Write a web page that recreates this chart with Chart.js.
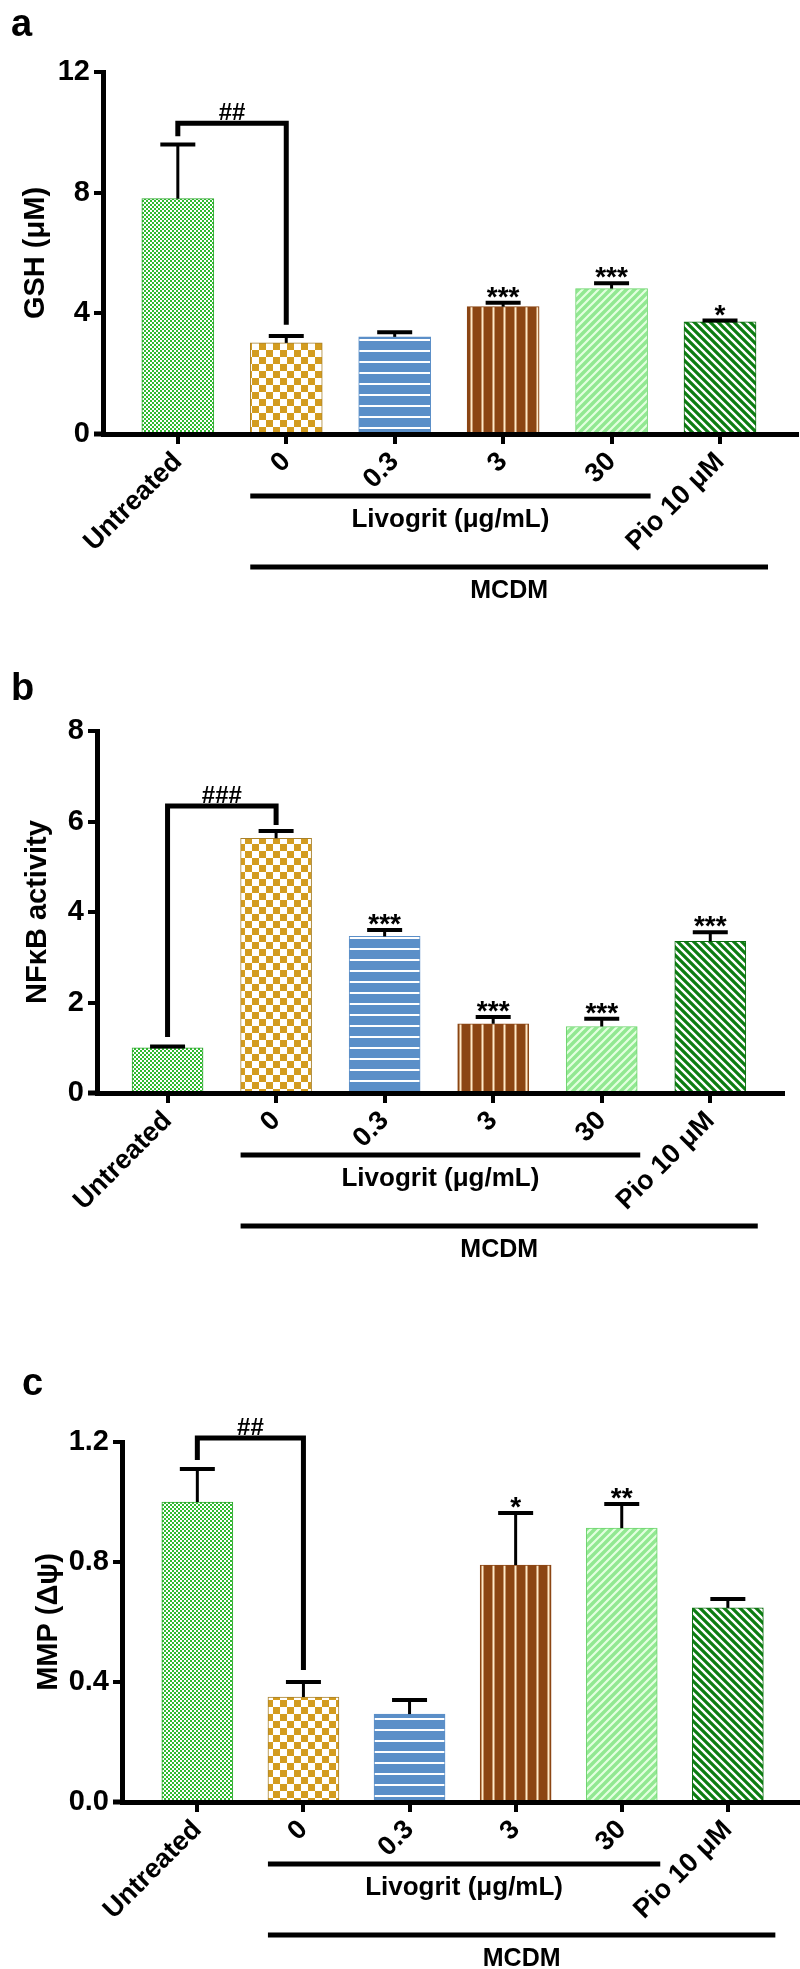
<!DOCTYPE html>
<html><head><meta charset="utf-8">
<script src="https://cdn.jsdelivr.net/npm/chart.js@4.4.1/dist/chart.umd.min.js"></script>
<style>
html,body{margin:0;padding:0;background:#fff;}
body{width:800px;height:1969px;position:relative;overflow:hidden;}
canvas{position:absolute;left:0;}
</style></head><body>
<canvas id="ca" width="800" height="620" style="top:0px"></canvas>
<canvas id="cb" width="800" height="660" style="top:620px"></canvas>
<canvas id="cc" width="800" height="689" style="top:1280px"></canvas>
<script>
// ---------------- data ----------------
const categories = ["Untreated", "0", "0.3", "3", "30", "Pio 10 μM"];

const gshMean  = [7.8, 3.02, 3.22, 4.22, 4.82, 3.72];
const gshErr   = [1.8, 0.23, 0.15, 0.13, 0.18, 0.04];
const gshStars = ["", "", "", "***", "***", "*"];
const gshTicks = [0, 4, 8, 12];
const gshTickLabels = ["0", "4", "8", "12"];
const gshBracket = [10.3, 9.87, 3.62];   // top, left-leg bottom, right-leg bottom
const gshBracketLabel = "##";

const nfkbMean  = [1.0, 5.63, 3.46, 1.53, 1.47, 3.35];
const nfkbErr   = [0.03, 0.16, 0.14, 0.15, 0.17, 0.2];
const nfkbStars = ["", "", "***", "***", "***", "***"];
const nfkbTicks = [0, 2, 4, 6, 8];
const nfkbTickLabels = ["0", "2", "4", "6", "8"];
const nfkbBracket = [6.34, 1.24, 5.92];
const nfkbBracketLabel = "###";

const mmpMean  = [1.0, 0.35, 0.293, 0.79, 0.913, 0.647];
const mmpErr   = [0.11, 0.05, 0.047, 0.173, 0.08, 0.03];
const mmpStars = ["", "", "", "*", "**", ""];
const mmpTicks = [0, 0.4, 0.8, 1.2];
const mmpTickLabels = ["0.0", "0.4", "0.8", "1.2"];
const mmpBracket = [1.213, 1.14, 0.44];
const mmpBracketLabel = "##";

const groupNames = ["Livogrit (μg/mL)", "MCDM"];
const groupFrom  = [1, 1];
const groupTo    = [4, 5];

// ---------------- styling ----------------
const FONT = '"Liberation Sans", Arial, Helvetica, sans-serif';
Chart.defaults.font.family = FONT;

function tile(w, h, draw) {
  const c = document.createElement('canvas'); c.width = w; c.height = h;
  const g = c.getContext('2d'); draw(g, w, h);
  return g.createPattern(c, 'repeat');
}
function checker(size, a, b) {
  return tile(size * 2, size * 2, (g) => {
    g.fillStyle = b; g.fillRect(0, 0, size * 2, size * 2);
    g.fillStyle = a; g.fillRect(0, 0, size, size); g.fillRect(size, size, size, size);
  });
}
function diag(s, bg, fg, lw, up) {
  return tile(s, s, (g) => {
    g.fillStyle = bg; g.fillRect(0, 0, s, s);
    g.strokeStyle = fg; g.lineWidth = lw; g.beginPath();
    if (up) { g.moveTo(-1, s + 1); g.lineTo(s + 1, -1); g.moveTo(-1 - s, s + 1); g.lineTo(1, -1); g.moveTo(s - 1, s + 1); g.lineTo(2 * s + 1, -1); }
    else { g.moveTo(-1, -1); g.lineTo(s + 1, s + 1); g.moveTo(-1 - s, -1); g.lineTo(1, s + 1); g.moveTo(s - 1, -1); g.lineTo(2 * s + 1, s + 1); }
    g.stroke();
  });
}
const patterns = [
  checker(2, '#ffffff', '#30bb30'),
  checker(7, '#d39c1f', '#ffffff'),
  tile(8, 11, (g) => { g.fillStyle = '#5b8fc8'; g.fillRect(0, 0, 8, 11); g.fillStyle = '#ffffff'; g.fillRect(0, 9, 8, 2); }),
  tile(11, 8, (g) => { g.fillStyle = '#8b4513'; g.fillRect(0, 0, 11, 8); g.fillStyle = '#ffe9c8'; g.fillRect(8.5, 0, 2, 8); }),
  diag(8, '#92e892', '#e4ffe0', 2.2, true),
  diag(8, '#0d7d12', '#ffffff', 2.4, false)
];
const borders = ['#2ea82e', '#a8802a', '#5b8fc8', '#8b4513', '#6cd46c', '#0b6e0f'];

function line(ctx, x1, y1, x2, y2) { ctx.beginPath(); ctx.moveTo(x1, y1); ctx.lineTo(x2, y2); ctx.stroke(); }

function annotPlugin(cfg) {
  return {
    id: 'annot',
    afterDraw(chart) {
      const ctx = chart.ctx, xs = chart.scales.x, ys = chart.scales.y;
      const area = chart.chartArea;
      ctx.save();
      ctx.strokeStyle = '#000'; ctx.fillStyle = '#000'; ctx.lineCap = 'butt';
      // x axis extension to the left of the y axis
      ctx.lineWidth = 5; line(ctx, area.left - 9, area.bottom, area.left, area.bottom);
      // error bars + stars
      cfg.mean.forEach((m, i) => {
        const x = xs.getPixelForValue(i);
        const y0 = ys.getPixelForValue(m), y1 = ys.getPixelForValue(m + cfg.err[i]);
        ctx.lineWidth = 3; line(ctx, x, y0, x, y1);
        ctx.lineWidth = 4; line(ctx, x - 17.5, y1, x + 17.5, y1);
        if (cfg.stars[i]) {
          ctx.font = 'bold 28px ' + FONT; ctx.textAlign = 'center'; ctx.textBaseline = 'alphabetic';
          ctx.fillText(cfg.stars[i], x, y1 + 3);
        }
      });
      // bracket
      const xl = xs.getPixelForValue(0), xr = xs.getPixelForValue(1);
      const yt = ys.getPixelForValue(cfg.bracket[0]);
      ctx.lineWidth = 5; ctx.lineJoin = 'miter';
      ctx.beginPath();
      ctx.moveTo(xl, ys.getPixelForValue(cfg.bracket[1]));
      ctx.lineTo(xl, yt); ctx.lineTo(xr, yt);
      ctx.lineTo(xr, ys.getPixelForValue(cfg.bracket[2]));
      ctx.stroke();
      ctx.font = 'bold 24px ' + FONT; ctx.textAlign = 'center'; ctx.textBaseline = 'alphabetic';
      ctx.fillText(cfg.bracketLabel, (xl + xr) / 2, yt - 3);
      // group lines
      const half = cfg.barW / 2;
      groupNames.forEach((name, g) => {
        const y = area.bottom + (g === 0 ? 62 : 133);
        const xa = xs.getPixelForValue(groupFrom[g]) - half;
        const xb = xs.getPixelForValue(groupTo[g]) + half + (g === 0 ? 3 : 12);
        ctx.lineWidth = 5; line(ctx, xa, y, xb, y);
        ctx.font = 'bold ' + (g === 0 ? 26 : 25) + 'px ' + FONT; ctx.textAlign = 'center'; ctx.textBaseline = 'middle';
        ctx.fillText(name, (xa + xb) / 2, y + 24);
      });
      // panel letter
      ctx.font = 'bold 38px ' + FONT; ctx.textAlign = 'left'; ctx.textBaseline = 'alphabetic';
      ctx.fillText(cfg.letter, cfg.letterX, cfg.letterY);
      ctx.restore();
    }
  };
}

function makeChart(id, cfg) {
  const axisFont = { family: FONT, size: 29, weight: 'bold' };
  new Chart(document.getElementById(id), {
    type: 'bar',
    data: {
      datasets: [{
        data: cfg.mean.map((v, i) => ({ x: i, y: v })),
        backgroundColor: patterns, borderColor: borders, borderWidth: 1,
        barThickness: cfg.barW, borderSkipped: 'bottom'
      }]
    },
    options: {
      responsive: false, animation: false, devicePixelRatio: 1,
      layout: { padding: { left: 0, top: cfg.padTop, right: cfg.padRight, bottom: 0 } },
      plugins: { legend: { display: false }, tooltip: { enabled: false } },
      scales: {
        x: {
          type: 'linear', offset: false, min: cfg.xmin, max: cfg.xmax, z: 1,
          afterBuildTicks: (s) => { s.ticks = categories.map((c, i) => ({ value: i })); },
          afterFit: (s) => { s.height = cfg.xH; },
          grid: { offset: false, drawOnChartArea: false, drawTicks: true, tickLength: 10, lineWidth: 4, color: '#000' },
          border: { display: true, width: 5, color: '#000' },
          ticks: {
            autoSkip: false, minRotation: 45, maxRotation: 45, padding: 2, color: '#000',
            font: { family: FONT, size: 27, weight: 'bold' },
            callback: (v, i) => categories[i]
          }
        },
        y: {
          min: 0, max: cfg.ticks[cfg.ticks.length - 1], z: 1,
          afterBuildTicks: (s) => { s.ticks = cfg.ticks.map((v) => ({ value: v })); },
          afterFit: (s) => { s.width = cfg.yW; },
          grid: { drawOnChartArea: false, drawTicks: true, tickLength: 9, lineWidth: 4, color: '#000' },
          border: { display: true, width: 5, color: '#000' },
          ticks: { padding: 4, color: '#000', font: axisFont, callback: (v, i) => cfg.tickLabels[i] },
          title: { display: true, text: cfg.title, color: '#000', font: axisFont, padding: { top: cfg.titlePad, bottom: 0 } }
        }
      }
    },
    plugins: [annotPlugin(cfg)]
  });
}

makeChart('ca', {
  mean: gshMean, err: gshErr, stars: gshStars, ticks: gshTicks, tickLabels: gshTickLabels,
  bracket: gshBracket, bracketLabel: gshBracketLabel, title: 'GSH (μM)',
  padTop: 72, padRight: 3, yW: 103, xH: 186, xmin: -0.69, xmax: 5.71, barW: 72, titlePad: 19,
  letter: 'a', letterX: 11, letterY: 36
});
makeChart('cb', {
  mean: nfkbMean, err: nfkbErr, stars: nfkbStars, ticks: nfkbTicks, tickLabels: nfkbTickLabels,
  bracket: nfkbBracket, bracketLabel: nfkbBracketLabel, title: 'NFκB activity',
  padTop: 111, padRight: 17, yW: 97, xH: 187, xmin: -0.65, xmax: 5.67, barW: 71, titlePad: 21,
  letter: 'b', letterX: 11, letterY: 80
});
makeChart('cc', {
  mean: mmpMean, err: mmpErr, stars: mmpStars, ticks: mmpTicks, tickLabels: mmpTickLabels,
  bracket: mmpBracket, bracketLabel: mmpBracketLabel, title: 'MMP (Δψ)',
  padTop: 162, padRight: 0, yW: 122, xH: 167, xmin: -0.71, xmax: 5.68, barW: 71, titlePad: 32,
  letter: 'c', letterX: 22, letterY: 115
});
</script>
</body></html>
